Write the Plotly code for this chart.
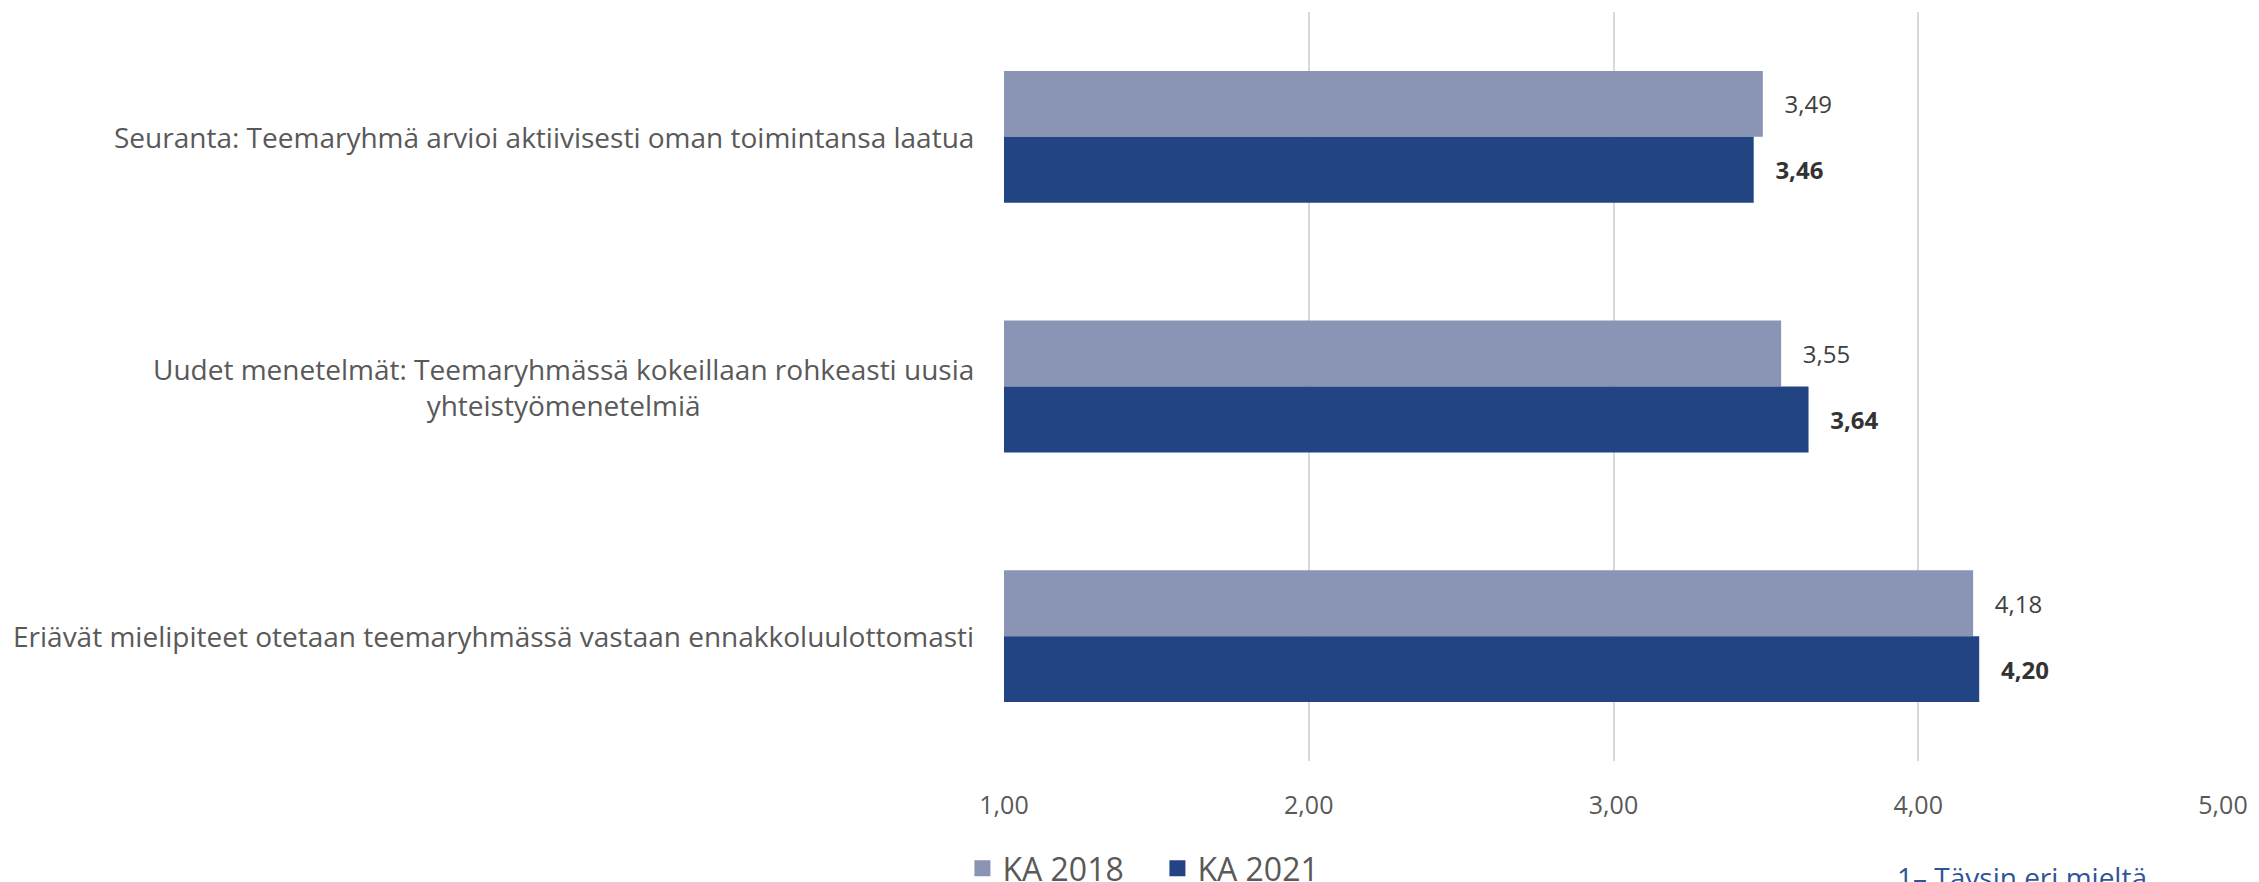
import plotly.graph_objects as go

categories = [
    "Seuranta: Teemaryhmä arvioi aktiivisesti oman toimintansa laatua",
    "Uudet menetelmät: Teemaryhmässä kokeillaan rohkeasti uusia<br>yhteistyömenetelmiä",
    "Eriävät mielipiteet otetaan teemaryhmässä vastaan ennakkoluulottomasti",
]
series_names = ["KA 2018", "KA 2021"]
ka_2018 = [3.49, 3.55, 4.18]
ka_2021 = [3.46, 3.64, 4.20]
tick_vals = [1, 2, 3, 4, 5]
tick_text = ["1,00", "2,00", "3,00", "4,00", "5,00"]
note_text = "1– Täysin eri mieltä"

FONT = "Open Sans"
GRAY = "#595959"
COLORS = ["#8A94B5", "#224483"]
pad = "\u00a0\u00a0\u00a0"

fig = go.Figure()

fig.add_trace(go.Bar(
    y=categories, x=ka_2018, orientation="h", name=series_names[0],
    marker=dict(color=COLORS[0], line=dict(width=0)), showlegend=False,
    text=[pad + f"{v:.2f}".replace(".", ",") for v in ka_2018],
    textposition="outside", cliponaxis=False,
    textfont=dict(family=FONT, size=24, color="#404040"),
))
fig.add_trace(go.Bar(
    y=categories, x=ka_2021, orientation="h", name=series_names[1],
    marker=dict(color=COLORS[1], line=dict(width=0)), showlegend=False,
    text=[pad + "<b>" + f"{v:.2f}".replace(".", ",") + "</b>" for v in ka_2021],
    textposition="outside", cliponaxis=False,
    textfont=dict(family=FONT, size=24, color="#333333"),
))

# legend proxies with bigger square swatches, like the Excel legend
for name, col in zip(series_names, COLORS):
    fig.add_trace(go.Scatter(
        x=[None], y=[None], mode="markers", name=name,
        marker=dict(symbol="square", size=20, color=col),
    ))

# category labels as annotations so wrapped lines stay centred
for c in categories:
    fig.add_annotation(
        x=0, xref="paper", y=c, yref="y", text=c, showarrow=False,
        xanchor="right", xshift=-28, align="center",
        font=dict(family=FONT, size=28, color=GRAY),
    )

fig.add_annotation(
    x=0.731, xref="paper", y=-0.127, yref="paper", text=note_text,
    showarrow=False, xanchor="left", yanchor="top",
    font=dict(family=FONT, size=28, color="#2F5597"),
)

# the page body adds an 8px margin, so the figure is 8px smaller
fig.update_layout(
    width=2251, height=874,
    barmode="group", bargap=0.472, bargroupgap=0,
    plot_bgcolor="white", paper_bgcolor="white",
    margin=dict(l=996, r=36, t=4, b=121),
    font=dict(family=FONT, color=GRAY),
    xaxis=dict(
        range=[1, 5], tickvals=tick_vals, ticktext=tick_text,
        showgrid=True, gridcolor="#D9D9D9", gridwidth=2,
        zeroline=False, showline=False,
        ticks="outside", ticklen=22, tickcolor="rgba(0,0,0,0)",
        tickfont=dict(family=FONT, size=25, color=GRAY),
    ),
    yaxis=dict(
        autorange="reversed", showticklabels=False, showgrid=False,
        zeroline=False, showline=False,
    ),
    showlegend=True,
    legend=dict(
        orientation="h", xref="container", yref="container",
        x=0.424, xanchor="left", y=0.047, yanchor="top",
        font=dict(family=FONT, size=32, color=GRAY),
        traceorder="normal", itemwidth=30, entrywidth=150,
    ),
)

fig.write_html("out.html")
